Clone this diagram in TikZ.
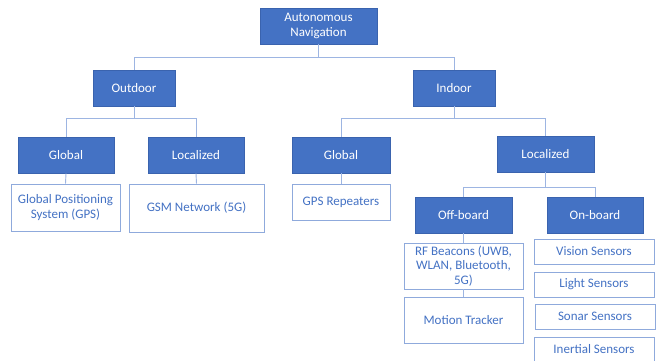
\documentclass[tikz,border=0pt]{standalone}
\usepackage{fontspec}
\setmainfont{Carlito}
\definecolor{darkbox}{HTML}{4472C4}
\definecolor{darkedge}{HTML}{3A63AE}
\definecolor{lightedge}{HTML}{8FAADC}
\definecolor{linkcol}{HTML}{9DB5E2}
\begin{document}
\begin{tikzpicture}[x=1pt,y=-1pt,
  catbox/.style={draw=darkedge,fill=darkbox,text=white,line width=0.8pt,inner sep=0pt,align=center,font=\fontsize{13}{14.8}\selectfont},
  leafbox/.style={draw=lightedge,fill=white,text=darkbox,line width=0.9pt,inner sep=0pt,align=center,font=\fontsize{13}{14.8}\selectfont},
  link/.style={draw=linkcol,line width=0.9pt}]
\clip (0,0) rectangle (659,360);
\fill[white] (0,0) rectangle (659,360);
% category boxes
\node[catbox,minimum width=117pt,minimum height=36pt] (root) at (318.5,26) {Autonomous\\Navigation};
\node[catbox,minimum width=82pt,minimum height=36pt] (out) at (134,88) {Outdoor};
\node[catbox,minimum width=82pt,minimum height=36pt] (ind) at (454,88) {Indoor};
\node[catbox,minimum width=96pt,minimum height=36pt] (og) at (66,155) {Global};
\node[catbox,minimum width=96pt,minimum height=36pt] (ol) at (196,155) {Localized};
\node[catbox,minimum width=98pt,minimum height=36pt] (ig) at (341,155) {Global};
\node[catbox,minimum width=97pt,minimum height=36pt] (il) at (545.5,154) {Localized};
\node[catbox,minimum width=97pt,minimum height=36pt] (off) at (463.5,215) {Off-board};
\node[catbox,minimum width=96pt,minimum height=36pt] (on) at (595,215) {On-board};
% leaf boxes
\node[leafbox,minimum width=109pt,minimum height=47pt] (gps) at (65.5,207.5) {Global Positioning\\System (GPS)};
\node[leafbox,minimum width=135pt,minimum height=48pt] (gsm) at (196.5,208) {GSM Network (5G)};
\node[leafbox,minimum width=98pt,minimum height=36pt] (rep) at (341,202) {GPS Repeaters};
\node[leafbox,minimum width=119pt,minimum height=46pt] (rf) at (463.5,266) {RF Beacons (UWB,\\WLAN, Bluetooth,\\5G)};
\node[leafbox,minimum width=119pt,minimum height=46pt] (mt) at (463.5,320) {Motion Tracker};
\node[leafbox,minimum width=120pt,minimum height=25pt] (vis) at (594,251.5) {Vision Sensors};
\node[leafbox,minimum width=120pt,minimum height=25pt] (lig) at (594,284.5) {Light Sensors};
\node[leafbox,minimum width=120pt,minimum height=25pt] (son) at (595,316.5) {Sonar Sensors};
\node[leafbox,minimum width=120pt,minimum height=25pt] (ine) at (594,349.5) {Inertial Sensors};
% connectors
\draw[link] (root.south) -- ++(0,13) -| (out.north);
\draw[link] (root.south) -- ++(0,13) -| (ind.north);
\draw[link] (out.south) -- ++(0,12) -| (og.north);
\draw[link] (out.south) -- ++(0,12) -| (ol.north);
\draw[link] (ind.south) -- ++(0,12) -| (ig.north);
\draw[link] (ind.south) -- ++(0,12) -| (il.north);
\draw[link] (il.south) -- ++(0,15) -| (off.north);
\draw[link] (il.south) -- ++(0,15) -| (on.north);
\draw[link] (og.south) -- (gps.north);
\draw[link] (ol.south) -- (gsm.north);
\draw[link] (ig.south) -- (rep.north);
\draw[link] (off.south) -- (rf.north);
\draw[link] (rf.south) -- (mt.north);
\end{tikzpicture}
\end{document}
